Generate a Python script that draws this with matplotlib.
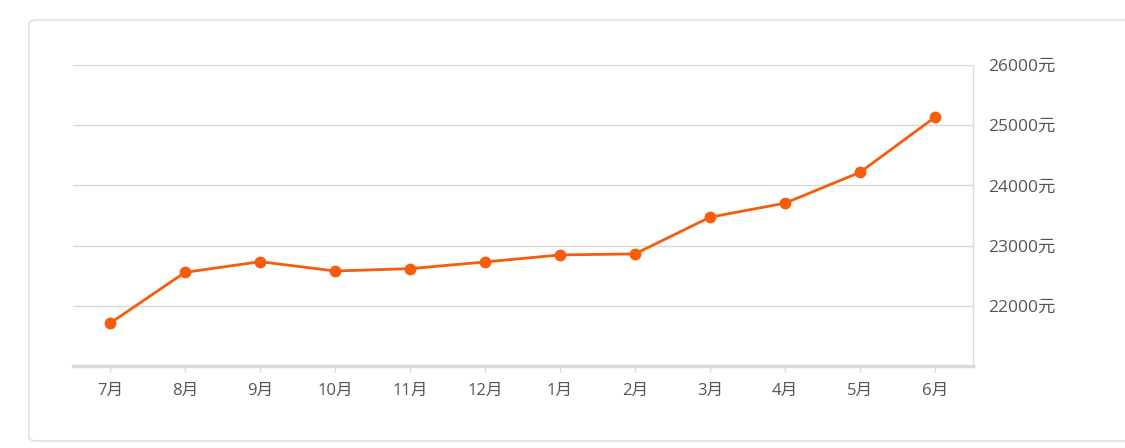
"""Monthly average price line chart"""

import matplotlib
matplotlib.use("Agg")
import matplotlib.pyplot as plt
from matplotlib.patches import FancyBboxPatch

plt.rcParams['font.family'] = ['Open Sans', 'Noto Sans CJK SC', 'DejaVu Sans']

# data
months = ["7月", "8月", "9月", "10月", "11月", "12月", "1月", "2月", "3月", "4月", "5月", "6月"]
prices = [21710, 22555, 22733, 22578, 22617, 22728, 22845, 22862, 23472, 23705, 24217, 25133]
y_ticks = [22000, 23000, 24000, 25000, 26000]
y_labels = [f"{v}元" for v in y_ticks]

W, H = 1125, 448
fig = plt.figure(figsize=(W / 100, H / 100), dpi=100)

# outer rounded card (behind the axes)
card = FancyBboxPatch((29 / W, 1 - 441 / H), 1.2, (441 - 20) / H,
                      boxstyle="round,pad=0,rounding_size=0.008",
                      transform=fig.transFigure, facecolor="none",
                      edgecolor="#dcdcdc", linewidth=1.0, zorder=-1)
fig.patches.append(card)

ax = fig.add_axes([72.5 / W, 1 - 366 / H, 900 / W, 301 / H])
ax.set_facecolor("none")

x = list(range(len(months)))
ax.plot(x, prices, color="#f65c0a", linewidth=2.0, marker="o",
        markersize=8.5, markeredgewidth=0, zorder=3)

ax.set_xlim(-0.5, len(months) - 0.5)
ax.set_ylim(21000, 26000)

ax.set_xticks(x)
ax.set_xticklabels(months)
ax.set_yticks(y_ticks)
ax.set_yticklabels(y_labels)

ax.yaxis.tick_right()
ax.tick_params(axis="y", length=0, pad=11, labelsize=12.5, labelcolor="#555555")
ax.tick_params(axis="x", length=4, width=1, color="#d9d9d9", pad=8,
               labelsize=12, labelcolor="#555555")

ax.grid(axis="y", color="#d9d9d9", linewidth=1.0)
ax.set_axisbelow(True)

for side in ["left", "top"]:
    ax.spines[side].set_visible(False)
ax.spines["right"].set_color("#dcdcdc")
ax.spines["right"].set_linewidth(1.0)
ax.spines["bottom"].set_color("#d9d9d9")
ax.spines["bottom"].set_linewidth(2.5)

fig.savefig("out.png", dpi=100)
